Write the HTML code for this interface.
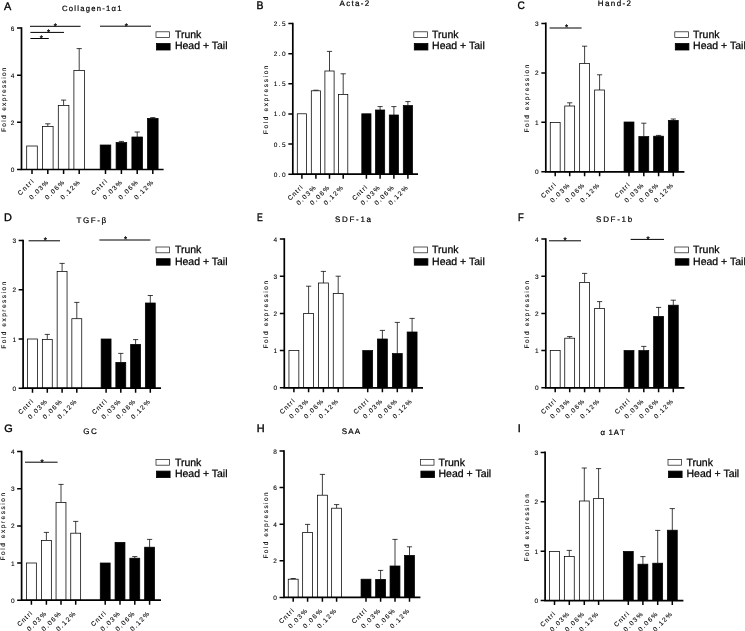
<!DOCTYPE html>
<html lang="en"><head><meta charset="utf-8"><title>Fold expression figure</title>
<style>
html,body{margin:0;padding:0;background:#fff;}
body{width:745px;height:631px;overflow:hidden;}
svg{display:block;will-change:transform;}
text{font-family:"Liberation Sans", Arial, sans-serif;fill:#000;text-rendering:geometricPrecision;}
.s{font-size:6.5px;letter-spacing:1.4px;stroke:#000;stroke-width:0.1px;}
.t{font-size:7.6px;letter-spacing:1.4px;stroke:#000;stroke-width:0.2px;}
.l{font-size:10.9px;stroke:#000;stroke-width:0.35px;}
.st{font-size:8px;stroke:#000;stroke-width:0.3px;}
.g{font-size:10.5px;stroke:#000;stroke-width:0.25px;}
.ax{stroke:#000;stroke-width:1.7;fill:none;stroke-linecap:butt;}
.tk{stroke:#000;stroke-width:1.5;fill:none;}
.wb{fill:#fff;stroke:#000;stroke-width:0.75;}
.bb{fill:#000;stroke:#000;stroke-width:0.75;}
.eb{stroke:#000;stroke-width:0.75;fill:none;}
.sg{stroke:#000;stroke-width:1;fill:none;}
</style></head><body>
<svg width="745" height="631" viewBox="0 0 745 631" role="img" aria-label="Fold expression bar charts, panels A to I">
<rect x="0" y="0" width="745" height="631" fill="#fff"/>
<g>
<text class="l" transform="translate(4 9.6) scale(1 1)">A</text>
<text class="t" style="font-size:7.7px;letter-spacing:1.23px" x="62" y="11.4">Collagen-1α1</text>
<rect class="wb" x="26.7" y="146" width="10.6" height="23.5"/>
<path class="eb" d="M47.8 126.4V123.8M45.2 123.8H50.4"/>
<rect class="wb" x="42.5" y="126.4" width="10.6" height="43.1"/>
<path class="eb" d="M63.6 105.4V100.1M61 100.1H66.2"/>
<rect class="wb" x="58.3" y="105.4" width="10.6" height="64.1"/>
<path class="eb" d="M79.2 70.4V48.6M76.6 48.6H81.8"/>
<rect class="wb" x="73.9" y="70.4" width="10.6" height="99.1"/>
<rect class="bb" x="100.2" y="145" width="10.6" height="24.5"/>
<path class="eb" d="M121.4 142.6V141.4M118.8 141.4H124"/>
<rect class="bb" x="116.1" y="142.6" width="10.6" height="26.9"/>
<path class="eb" d="M137.2 137V132M134.6 132H139.8"/>
<rect class="bb" x="131.9" y="137" width="10.6" height="32.5"/>
<path class="eb" d="M152.8 118.4V117.6M150.2 117.6H155.4"/>
<rect class="bb" x="147.5" y="118.4" width="10.6" height="51.1"/>
<path class="ax" d="M21.5 27.25V169.5H163.6"/>
<text class="s" x="15.8" y="30.6" text-anchor="end">6</text>
<text class="s" x="15.8" y="77.7" text-anchor="end">4</text>
<text class="s" x="15.8" y="124.8" text-anchor="end">2</text>
<text class="s" x="15.8" y="172" text-anchor="end">0</text>
<text class="s" text-anchor="end" style="letter-spacing:1.4px" transform="translate(34 182) rotate(-45)" x="1.4" y="0">Cntrl</text>
<text class="s" text-anchor="end" style="letter-spacing:1.4px" transform="translate(48.7 183.1) rotate(-45)" x="1.4" y="0">0.03%</text>
<text class="s" text-anchor="end" style="letter-spacing:1.4px" transform="translate(64.5 183.1) rotate(-45)" x="1.4" y="0">0.06%</text>
<text class="s" text-anchor="end" style="letter-spacing:1.4px" transform="translate(80.1 183.1) rotate(-45)" x="1.4" y="0">0.12%</text>
<text class="s" text-anchor="end" style="letter-spacing:1.4px" transform="translate(107.5 182) rotate(-45)" x="1.4" y="0">Cntrl</text>
<text class="s" text-anchor="end" style="letter-spacing:1.4px" transform="translate(122.3 183.1) rotate(-45)" x="1.4" y="0">0.03%</text>
<text class="s" text-anchor="end" style="letter-spacing:1.4px" transform="translate(138.1 183.1) rotate(-45)" x="1.4" y="0">0.06%</text>
<text class="s" text-anchor="end" style="letter-spacing:1.4px" transform="translate(153.7 183.1) rotate(-45)" x="1.4" y="0">0.12%</text>
<path class="tk" d="M21.5 28.1H17.05M21.5 75.2H17.05M21.5 122.3H17.05M21.5 169.5H17.05M32 169.5V173.95M47.8 169.5V173.95M63.6 169.5V173.95M79.2 169.5V173.95M105.5 169.5V173.95M121.4 169.5V173.95M137.2 169.5V173.95M152.8 169.5V173.95"/>
<text class="s" style="letter-spacing:1.32px" transform="translate(5.5 131.4) rotate(-90)" x="-0.52" y="0">Fold expression</text>
<path class="sg" d="M30 26.3H80.6"/>
<text class="st" x="55.4" y="28.6" text-anchor="middle">*</text>
<path class="sg" d="M30.4 32.4H64"/>
<text class="st" x="48.5" y="34.7" text-anchor="middle">*</text>
<path class="sg" d="M30.4 38.5H48.8"/>
<text class="st" x="41.3" y="40.8" text-anchor="middle">*</text>
<path class="sg" d="M100 26.2H151"/>
<text class="st" x="126.4" y="28.5" text-anchor="middle">*</text>
<rect x="156" y="31.8" width="13.6" height="5.8" fill="#fff" stroke="#222" stroke-width="0.75"/>
<rect x="156.5" y="43.5" width="13.6" height="6.5" fill="#000" stroke="#000" stroke-width="0.8"/>
<text class="g" x="174.9" y="38">Trunk</text>
<text class="g" x="174.9" y="49.4">Head + Tail</text>
</g>
<g>
<text class="l" transform="translate(256.5 9.4) scale(0.96 1)">B</text>
<text class="t" style="font-size:8px;letter-spacing:1.28px" x="339.6" y="6.4">Acta-2</text>
<rect class="wb" x="297.3" y="113.8" width="9.2" height="60.4"/>
<path class="eb" d="M315.9 90.8V90.2M313.3 90.2H318.5"/>
<rect class="wb" x="311.3" y="90.8" width="9.2" height="83.4"/>
<path class="eb" d="M329.5 71V51.4M326.9 51.4H332.1"/>
<rect class="wb" x="324.9" y="71" width="9.2" height="103.2"/>
<path class="eb" d="M343.2 94.4V73.8M340.6 73.8H345.8"/>
<rect class="wb" x="338.6" y="94.4" width="9.2" height="79.8"/>
<rect class="bb" x="361.8" y="113.8" width="9.2" height="60.4"/>
<path class="eb" d="M380.1 110V106.6M377.5 106.6H382.7"/>
<rect class="bb" x="375.5" y="110" width="9.2" height="64.2"/>
<path class="eb" d="M393.9 115V106.6M391.3 106.6H396.5"/>
<rect class="bb" x="389.3" y="115" width="9.2" height="59.2"/>
<path class="eb" d="M407.9 105.6V101.6M405.3 101.6H410.5"/>
<rect class="bb" x="403.3" y="105.6" width="9.2" height="68.6"/>
<path class="ax" d="M292.8 22.75V174.2H418"/>
<text class="s" x="287.1" y="26.1" text-anchor="end">2.5</text>
<text class="s" x="287.1" y="56.2" text-anchor="end">2.0</text>
<text class="s" x="287.1" y="86.3" text-anchor="end">1.5</text>
<text class="s" x="287.1" y="116.4" text-anchor="end">1.0</text>
<text class="s" x="287.1" y="146.6" text-anchor="end">0.5</text>
<text class="s" x="287.1" y="176.7" text-anchor="end">0.0</text>
<text class="s" text-anchor="end" style="letter-spacing:1.1px" transform="translate(303 188) rotate(-45)" x="1.1" y="0">Cntrl</text>
<text class="s" text-anchor="end" style="letter-spacing:1.4px" transform="translate(316 188.5) rotate(-45)" x="1.4" y="0">0.03%</text>
<text class="s" text-anchor="end" style="letter-spacing:1.4px" transform="translate(329.6 188.5) rotate(-45)" x="1.4" y="0">0.06%</text>
<text class="s" text-anchor="end" style="letter-spacing:1.4px" transform="translate(343.3 188.5) rotate(-45)" x="1.4" y="0">0.12%</text>
<text class="s" text-anchor="end" style="letter-spacing:1.1px" transform="translate(367.5 188) rotate(-45)" x="1.1" y="0">Cntrl</text>
<text class="s" text-anchor="end" style="letter-spacing:1.4px" transform="translate(380.2 188.5) rotate(-45)" x="1.4" y="0">0.03%</text>
<text class="s" text-anchor="end" style="letter-spacing:1.4px" transform="translate(394 188.5) rotate(-45)" x="1.4" y="0">0.06%</text>
<text class="s" text-anchor="end" style="letter-spacing:1.4px" transform="translate(408 188.5) rotate(-45)" x="1.4" y="0">0.12%</text>
<path class="tk" d="M292.8 23.6H288.35M292.8 53.7H288.35M292.8 83.8H288.35M292.8 113.9H288.35M292.8 144.1H288.35M292.8 174.2H288.35M301.9 174.2V178.65M315.9 174.2V178.65M329.5 174.2V178.65M343.2 174.2V178.65M366.4 174.2V178.65M380.1 174.2V178.65M393.9 174.2V178.65M407.9 174.2V178.65"/>
<text class="s" style="letter-spacing:1.63px" transform="translate(268.1 133.7) rotate(-90)" x="-0.52" y="0">Fold expression</text>
<rect x="413.8" y="31.8" width="13.6" height="5.8" fill="#fff" stroke="#222" stroke-width="0.75"/>
<rect x="414.3" y="43.5" width="13.6" height="6.5" fill="#000" stroke="#000" stroke-width="0.8"/>
<text class="g" x="432.1" y="38">Trunk</text>
<text class="g" x="432.1" y="49.4">Head + Tail</text>
</g>
<g>
<text class="l" transform="translate(517.4 9.4) scale(0.93 1)">C</text>
<text class="t" style="font-size:8px;letter-spacing:1.39px" x="597.8" y="6.2">Hand-2</text>
<rect class="wb" x="550.25" y="122.4" width="9.9" height="49.4"/>
<path class="eb" d="M569.7 106V102.8M567.1 102.8H572.3"/>
<rect class="wb" x="564.75" y="106" width="9.9" height="65.8"/>
<path class="eb" d="M584.6 63.6V46.2M582 46.2H587.2"/>
<rect class="wb" x="579.65" y="63.6" width="9.9" height="108.2"/>
<path class="eb" d="M599.6 90V74.8M597 74.8H602.2"/>
<rect class="wb" x="594.65" y="90" width="9.9" height="81.8"/>
<rect class="bb" x="624.05" y="122" width="9.9" height="49.8"/>
<path class="eb" d="M643.8 136.6V123.2M641.2 123.2H646.4"/>
<rect class="bb" x="638.85" y="136.6" width="9.9" height="35.2"/>
<path class="eb" d="M658.6 136.2V135.4M656 135.4H661.2"/>
<rect class="bb" x="653.65" y="136.2" width="9.9" height="35.6"/>
<path class="eb" d="M673.3 120.4V119M670.7 119H675.9"/>
<rect class="bb" x="668.35" y="120.4" width="9.9" height="51.4"/>
<path class="ax" d="M545.8 22.55V171.8H684.4"/>
<text class="s" x="540.1" y="25.9" text-anchor="end">3</text>
<text class="s" x="540.1" y="75.4" text-anchor="end">2</text>
<text class="s" x="540.1" y="124.8" text-anchor="end">1</text>
<text class="s" x="540.1" y="174.3" text-anchor="end">0</text>
<text class="s" text-anchor="end" style="letter-spacing:1.1px" transform="translate(556.3 185.6) rotate(-45)" x="1.1" y="0">Cntrl</text>
<text class="s" text-anchor="end" style="letter-spacing:1.4px" transform="translate(569.8 186.1) rotate(-45)" x="1.4" y="0">0.03%</text>
<text class="s" text-anchor="end" style="letter-spacing:1.4px" transform="translate(584.7 186.1) rotate(-45)" x="1.4" y="0">0.06%</text>
<text class="s" text-anchor="end" style="letter-spacing:1.4px" transform="translate(599.7 186.1) rotate(-45)" x="1.4" y="0">0.12%</text>
<text class="s" text-anchor="end" style="letter-spacing:1.1px" transform="translate(630.1 185.6) rotate(-45)" x="1.1" y="0">Cntrl</text>
<text class="s" text-anchor="end" style="letter-spacing:1.4px" transform="translate(643.9 186.1) rotate(-45)" x="1.4" y="0">0.03%</text>
<text class="s" text-anchor="end" style="letter-spacing:1.4px" transform="translate(658.7 186.1) rotate(-45)" x="1.4" y="0">0.06%</text>
<text class="s" text-anchor="end" style="letter-spacing:1.4px" transform="translate(673.4 186.1) rotate(-45)" x="1.4" y="0">0.12%</text>
<path class="tk" d="M545.8 23.4H541.35M545.8 72.9H541.35M545.8 122.3H541.35M545.8 171.8H541.35M555.2 171.8V176.25M569.7 171.8V176.25M584.6 171.8V176.25M599.6 171.8V176.25M629 171.8V176.25M643.8 171.8V176.25M658.6 171.8V176.25M673.3 171.8V176.25"/>
<text class="s" style="letter-spacing:1.56px" transform="translate(528.7 131.9) rotate(-90)" x="-0.52" y="0">Fold expression</text>
<path class="sg" d="M549.6 28H581.6"/>
<text class="st" x="566.6" y="30.3" text-anchor="middle">*</text>
<rect x="674.8" y="31.8" width="13.6" height="5.8" fill="#fff" stroke="#222" stroke-width="0.75"/>
<rect x="675.3" y="43.5" width="13.6" height="6.5" fill="#000" stroke="#000" stroke-width="0.8"/>
<text class="g" x="693.1" y="38">Trunk</text>
<text class="g" x="693.1" y="49.4">Head + Tail</text>
</g>
<g>
<text class="l" transform="translate(4 220.8) scale(1 1)">D</text>
<text class="t" style="font-size:8px;letter-spacing:1.56px" x="76.5" y="222.5">TGF-β</text>
<rect class="wb" x="27.55" y="339" width="9.9" height="49.2"/>
<path class="eb" d="M47.3 339.4V334.4M44.7 334.4H49.9"/>
<rect class="wb" x="42.35" y="339.4" width="9.9" height="48.8"/>
<path class="eb" d="M62.1 271.4V263.4M59.5 263.4H64.7"/>
<rect class="wb" x="57.15" y="271.4" width="9.9" height="116.8"/>
<path class="eb" d="M76.8 318.7V302.4M74.2 302.4H79.4"/>
<rect class="wb" x="71.85" y="318.7" width="9.9" height="69.5"/>
<rect class="bb" x="101.15" y="339" width="9.9" height="49.2"/>
<path class="eb" d="M120.8 362.4V353.4M118.2 353.4H123.4"/>
<rect class="bb" x="115.85" y="362.4" width="9.9" height="25.8"/>
<path class="eb" d="M135.6 344.4V339.6M133 339.6H138.2"/>
<rect class="bb" x="130.65" y="344.4" width="9.9" height="43.8"/>
<path class="eb" d="M150.3 303V295.5M147.7 295.5H152.9"/>
<rect class="bb" x="145.35" y="303" width="9.9" height="85.2"/>
<path class="ax" d="M23.1 239.75V388.2H161"/>
<text class="s" x="17.4" y="243.1" text-anchor="end">3</text>
<text class="s" x="17.4" y="292.3" text-anchor="end">2</text>
<text class="s" x="17.4" y="341.5" text-anchor="end">1</text>
<text class="s" x="17.4" y="390.7" text-anchor="end">0</text>
<text class="s" text-anchor="end" style="letter-spacing:1.1px" transform="translate(33.6 402) rotate(-45)" x="1.1" y="0">Cntrl</text>
<text class="s" text-anchor="end" style="letter-spacing:1.4px" transform="translate(47.4 402.5) rotate(-45)" x="1.4" y="0">0.03%</text>
<text class="s" text-anchor="end" style="letter-spacing:1.4px" transform="translate(62.2 402.5) rotate(-45)" x="1.4" y="0">0.06%</text>
<text class="s" text-anchor="end" style="letter-spacing:1.4px" transform="translate(76.9 402.5) rotate(-45)" x="1.4" y="0">0.12%</text>
<text class="s" text-anchor="end" style="letter-spacing:1.1px" transform="translate(107.2 402) rotate(-45)" x="1.1" y="0">Cntrl</text>
<text class="s" text-anchor="end" style="letter-spacing:1.4px" transform="translate(120.9 402.5) rotate(-45)" x="1.4" y="0">0.03%</text>
<text class="s" text-anchor="end" style="letter-spacing:1.4px" transform="translate(135.7 402.5) rotate(-45)" x="1.4" y="0">0.06%</text>
<text class="s" text-anchor="end" style="letter-spacing:1.4px" transform="translate(150.4 402.5) rotate(-45)" x="1.4" y="0">0.12%</text>
<path class="tk" d="M23.1 240.6H18.65M23.1 289.8H18.65M23.1 339H18.65M23.1 388.2H18.65M32.5 388.2V392.65M47.3 388.2V392.65M62.1 388.2V392.65M76.8 388.2V392.65M106.1 388.2V392.65M120.8 388.2V392.65M135.6 388.2V392.65M150.3 388.2V392.65"/>
<text class="s" style="letter-spacing:1.51px" transform="translate(6 348.2) rotate(-90)" x="-0.52" y="0">Fold expression</text>
<path class="sg" d="M28.6 240.8H60"/>
<text class="st" x="45.4" y="243.1" text-anchor="middle">*</text>
<path class="sg" d="M99.4 240H150.4"/>
<text class="st" x="125.6" y="242.3" text-anchor="middle">*</text>
<rect x="156" y="247" width="13.6" height="5.8" fill="#fff" stroke="#222" stroke-width="0.75"/>
<rect x="156.5" y="258.7" width="13.6" height="6.5" fill="#000" stroke="#000" stroke-width="0.8"/>
<text class="g" x="174.9" y="253.2">Trunk</text>
<text class="g" x="174.9" y="264.6">Head + Tail</text>
</g>
<g>
<text class="l" transform="translate(257 220.8) scale(0.8 1)">E</text>
<text class="t" style="font-size:8px;letter-spacing:1.66px" x="335.1" y="222">SDF-1a</text>
<rect class="wb" x="288.95" y="350.6" width="9.9" height="37.2"/>
<path class="eb" d="M308.6 313.4V286.2M306 286.2H311.2"/>
<rect class="wb" x="303.65" y="313.4" width="9.9" height="74.4"/>
<path class="eb" d="M323.4 283V271.4M320.8 271.4H326"/>
<rect class="wb" x="318.45" y="283" width="9.9" height="104.8"/>
<path class="eb" d="M338.2 293.4V276.2M335.6 276.2H340.8"/>
<rect class="wb" x="333.25" y="293.4" width="9.9" height="94.4"/>
<rect class="bb" x="362.75" y="350.6" width="9.9" height="37.2"/>
<path class="eb" d="M382.4 339V330.4M379.8 330.4H385"/>
<rect class="bb" x="377.45" y="339" width="9.9" height="48.8"/>
<path class="eb" d="M397.3 353.6V322.4M394.7 322.4H399.9"/>
<rect class="bb" x="392.35" y="353.6" width="9.9" height="34.2"/>
<path class="eb" d="M412.1 332V318.4M409.5 318.4H414.7"/>
<rect class="bb" x="407.15" y="332" width="9.9" height="55.8"/>
<path class="ax" d="M284.3 238.15V387.8H423"/>
<text class="s" x="278.6" y="241.5" text-anchor="end">4</text>
<text class="s" x="278.6" y="278.7" text-anchor="end">3</text>
<text class="s" x="278.6" y="315.9" text-anchor="end">2</text>
<text class="s" x="278.6" y="353.1" text-anchor="end">1</text>
<text class="s" x="278.6" y="390.3" text-anchor="end">0</text>
<text class="s" text-anchor="end" style="letter-spacing:1.1px" transform="translate(295 401.6) rotate(-45)" x="1.1" y="0">Cntrl</text>
<text class="s" text-anchor="end" style="letter-spacing:1.4px" transform="translate(308.7 402.1) rotate(-45)" x="1.4" y="0">0.03%</text>
<text class="s" text-anchor="end" style="letter-spacing:1.4px" transform="translate(323.5 402.1) rotate(-45)" x="1.4" y="0">0.06%</text>
<text class="s" text-anchor="end" style="letter-spacing:1.4px" transform="translate(338.3 402.1) rotate(-45)" x="1.4" y="0">0.12%</text>
<text class="s" text-anchor="end" style="letter-spacing:1.1px" transform="translate(368.8 401.6) rotate(-45)" x="1.1" y="0">Cntrl</text>
<text class="s" text-anchor="end" style="letter-spacing:1.4px" transform="translate(382.5 402.1) rotate(-45)" x="1.4" y="0">0.03%</text>
<text class="s" text-anchor="end" style="letter-spacing:1.4px" transform="translate(397.4 402.1) rotate(-45)" x="1.4" y="0">0.06%</text>
<text class="s" text-anchor="end" style="letter-spacing:1.4px" transform="translate(412.2 402.1) rotate(-45)" x="1.4" y="0">0.12%</text>
<path class="tk" d="M284.3 239H279.85M284.3 276.2H279.85M284.3 313.4H279.85M284.3 350.6H279.85M284.3 387.8H279.85M293.9 387.8V392.25M308.6 387.8V392.25M323.4 387.8V392.25M338.2 387.8V392.25M367.7 387.8V392.25M382.4 387.8V392.25M397.3 387.8V392.25M412.1 387.8V392.25"/>
<text class="s" style="letter-spacing:1.56px" transform="translate(268.1 348.1) rotate(-90)" x="-0.52" y="0">Fold expression</text>
<rect x="413.8" y="247" width="13.6" height="5.8" fill="#fff" stroke="#222" stroke-width="0.75"/>
<rect x="414.3" y="258.7" width="13.6" height="6.5" fill="#000" stroke="#000" stroke-width="0.8"/>
<text class="g" x="432.1" y="253.2">Trunk</text>
<text class="g" x="432.1" y="264.6">Head + Tail</text>
</g>
<g>
<text class="l" transform="translate(517.9 220.8) scale(0.86 1)">F</text>
<text class="t" style="font-size:8px;letter-spacing:1.7px" x="596.1" y="222">SDF-1b</text>
<rect class="wb" x="550.25" y="350.6" width="9.9" height="37.2"/>
<path class="eb" d="M569.7 338.2V336.6M567.1 336.6H572.3"/>
<rect class="wb" x="564.75" y="338.2" width="9.9" height="49.6"/>
<path class="eb" d="M584.6 282.4V273.4M582 273.4H587.2"/>
<rect class="wb" x="579.65" y="282.4" width="9.9" height="105.4"/>
<path class="eb" d="M599.6 308.4V301.6M597 301.6H602.2"/>
<rect class="wb" x="594.65" y="308.4" width="9.9" height="79.4"/>
<rect class="bb" x="624.05" y="350.6" width="9.9" height="37.2"/>
<path class="eb" d="M643.8 350.6V346.4M641.2 346.4H646.4"/>
<rect class="bb" x="638.85" y="350.6" width="9.9" height="37.2"/>
<path class="eb" d="M658.6 316.4V307.4M656 307.4H661.2"/>
<rect class="bb" x="653.65" y="316.4" width="9.9" height="71.4"/>
<path class="eb" d="M673.3 305.2V300.2M670.7 300.2H675.9"/>
<rect class="bb" x="668.35" y="305.2" width="9.9" height="82.6"/>
<path class="ax" d="M545.8 238.15V387.8H684.4"/>
<text class="s" x="540.1" y="241.5" text-anchor="end">4</text>
<text class="s" x="540.1" y="278.7" text-anchor="end">3</text>
<text class="s" x="540.1" y="315.9" text-anchor="end">2</text>
<text class="s" x="540.1" y="353.1" text-anchor="end">1</text>
<text class="s" x="540.1" y="390.3" text-anchor="end">0</text>
<text class="s" text-anchor="end" style="letter-spacing:1.1px" transform="translate(556.3 401.6) rotate(-45)" x="1.1" y="0">Cntrl</text>
<text class="s" text-anchor="end" style="letter-spacing:1.4px" transform="translate(569.8 402.1) rotate(-45)" x="1.4" y="0">0.03%</text>
<text class="s" text-anchor="end" style="letter-spacing:1.4px" transform="translate(584.7 402.1) rotate(-45)" x="1.4" y="0">0.06%</text>
<text class="s" text-anchor="end" style="letter-spacing:1.4px" transform="translate(599.7 402.1) rotate(-45)" x="1.4" y="0">0.12%</text>
<text class="s" text-anchor="end" style="letter-spacing:1.1px" transform="translate(630.1 401.6) rotate(-45)" x="1.1" y="0">Cntrl</text>
<text class="s" text-anchor="end" style="letter-spacing:1.4px" transform="translate(643.9 402.1) rotate(-45)" x="1.4" y="0">0.03%</text>
<text class="s" text-anchor="end" style="letter-spacing:1.4px" transform="translate(658.7 402.1) rotate(-45)" x="1.4" y="0">0.06%</text>
<text class="s" text-anchor="end" style="letter-spacing:1.4px" transform="translate(673.4 402.1) rotate(-45)" x="1.4" y="0">0.12%</text>
<path class="tk" d="M545.8 239H541.35M545.8 276.2H541.35M545.8 313.4H541.35M545.8 350.6H541.35M545.8 387.8H541.35M555.2 387.8V392.25M569.7 387.8V392.25M584.6 387.8V392.25M599.6 387.8V392.25M629 387.8V392.25M643.8 387.8V392.25M658.6 387.8V392.25M673.3 387.8V392.25"/>
<text class="s" style="letter-spacing:1.56px" transform="translate(528.7 348.1) rotate(-90)" x="-0.52" y="0">Fold expression</text>
<path class="sg" d="M549 240.8H581"/>
<text class="st" x="565" y="243.1" text-anchor="middle">*</text>
<path class="sg" d="M630.6 239.4H664"/>
<text class="st" x="648" y="241.7" text-anchor="middle">*</text>
<rect x="674.8" y="247" width="13.6" height="5.8" fill="#fff" stroke="#222" stroke-width="0.75"/>
<rect x="675.3" y="258.7" width="13.6" height="6.5" fill="#000" stroke="#000" stroke-width="0.8"/>
<text class="g" x="693.1" y="253.2">Trunk</text>
<text class="g" x="693.1" y="264.6">Head + Tail</text>
</g>
<g>
<text class="l" transform="translate(4.2 432.2) scale(1 1)">G</text>
<text class="t" style="font-size:8px;letter-spacing:1.7px" x="83.2" y="434.4">GC</text>
<rect class="wb" x="26.45" y="563" width="9.9" height="37.2"/>
<path class="eb" d="M46.4 540.4V532.4M43.8 532.4H49"/>
<rect class="wb" x="41.45" y="540.4" width="9.9" height="59.8"/>
<path class="eb" d="M61 502.4V484.4M58.4 484.4H63.6"/>
<rect class="wb" x="56.05" y="502.4" width="9.9" height="97.8"/>
<path class="eb" d="M75.7 533.2V521.4M73.1 521.4H78.3"/>
<rect class="wb" x="70.75" y="533.2" width="9.9" height="67"/>
<rect class="bb" x="100.25" y="563" width="9.9" height="37.2"/>
<rect class="bb" x="115.05" y="542.4" width="9.9" height="57.8"/>
<path class="eb" d="M134.8 558.2V556.6M132.2 556.6H137.4"/>
<rect class="bb" x="129.85" y="558.2" width="9.9" height="42"/>
<path class="eb" d="M149.6 547.2V539.4M147 539.4H152.2"/>
<rect class="bb" x="144.65" y="547.2" width="9.9" height="53"/>
<path class="ax" d="M21.6 450.75V600.2H161"/>
<text class="s" x="15.9" y="454.1" text-anchor="end">4</text>
<text class="s" x="15.9" y="491.2" text-anchor="end">3</text>
<text class="s" x="15.9" y="528.4" text-anchor="end">2</text>
<text class="s" x="15.9" y="565.5" text-anchor="end">1</text>
<text class="s" x="15.9" y="602.7" text-anchor="end">0</text>
<text class="s" text-anchor="end" style="letter-spacing:1.1px" transform="translate(32.5 614) rotate(-45)" x="1.1" y="0">Cntrl</text>
<text class="s" text-anchor="end" style="letter-spacing:1.4px" transform="translate(46.5 614.5) rotate(-45)" x="1.4" y="0">0.03%</text>
<text class="s" text-anchor="end" style="letter-spacing:1.4px" transform="translate(61.1 614.5) rotate(-45)" x="1.4" y="0">0.06%</text>
<text class="s" text-anchor="end" style="letter-spacing:1.4px" transform="translate(75.8 614.5) rotate(-45)" x="1.4" y="0">0.12%</text>
<text class="s" text-anchor="end" style="letter-spacing:1.1px" transform="translate(106.3 614) rotate(-45)" x="1.1" y="0">Cntrl</text>
<text class="s" text-anchor="end" style="letter-spacing:1.4px" transform="translate(120.1 614.5) rotate(-45)" x="1.4" y="0">0.03%</text>
<text class="s" text-anchor="end" style="letter-spacing:1.4px" transform="translate(134.9 614.5) rotate(-45)" x="1.4" y="0">0.06%</text>
<text class="s" text-anchor="end" style="letter-spacing:1.4px" transform="translate(149.7 614.5) rotate(-45)" x="1.4" y="0">0.12%</text>
<path class="tk" d="M21.6 451.6H17.15M21.6 488.7H17.15M21.6 525.9H17.15M21.6 563H17.15M21.6 600.2H17.15M31.4 600.2V604.65M46.4 600.2V604.65M61 600.2V604.65M75.7 600.2V604.65M105.2 600.2V604.65M120 600.2V604.65M134.8 600.2V604.65M149.6 600.2V604.65"/>
<text class="s" style="letter-spacing:1.54px" transform="translate(5.4 559.9) rotate(-90)" x="-0.52" y="0">Fold expression</text>
<path class="sg" d="M25 462.2H57.6"/>
<text class="st" x="42" y="464.5" text-anchor="middle">*</text>
<rect x="156" y="459.4" width="13.6" height="5.8" fill="#fff" stroke="#222" stroke-width="0.75"/>
<rect x="156.5" y="471.1" width="13.6" height="6.5" fill="#000" stroke="#000" stroke-width="0.8"/>
<text class="g" x="174.9" y="465.6">Trunk</text>
<text class="g" x="174.9" y="477">Head + Tail</text>
</g>
<g>
<text class="l" transform="translate(256.8 432) scale(1 1)">H</text>
<text class="t" style="font-size:8px;letter-spacing:1.13px" x="341.85" y="434">SAA</text>
<path class="eb" d="M293.2 579.2V578.5M290.6 578.5H295.8"/>
<rect class="wb" x="288.25" y="579.2" width="9.9" height="18.2"/>
<path class="eb" d="M307.6 532.4V524.4M305 524.4H310.2"/>
<rect class="wb" x="302.65" y="532.4" width="9.9" height="65"/>
<path class="eb" d="M322.4 495.2V474.4M319.8 474.4H325"/>
<rect class="wb" x="317.45" y="495.2" width="9.9" height="102.2"/>
<path class="eb" d="M336.6 508.2V504.6M334 504.6H339.2"/>
<rect class="wb" x="331.65" y="508.2" width="9.9" height="89.2"/>
<rect class="bb" x="361.05" y="579.2" width="9.9" height="18.2"/>
<path class="eb" d="M380.6 579.4V570.4M378 570.4H383.2"/>
<rect class="bb" x="375.65" y="579.4" width="9.9" height="18"/>
<path class="eb" d="M395 566V539.4M392.4 539.4H397.6"/>
<rect class="bb" x="390.05" y="566" width="9.9" height="31.4"/>
<path class="eb" d="M409.5 555.4V546.8M406.9 546.8H412.1"/>
<rect class="bb" x="404.55" y="555.4" width="9.9" height="42"/>
<path class="ax" d="M284 450.15V597.4H420.4"/>
<text class="s" x="278.3" y="453.5" text-anchor="end">8</text>
<text class="s" x="278.3" y="490.1" text-anchor="end">6</text>
<text class="s" x="278.3" y="526.7" text-anchor="end">4</text>
<text class="s" x="278.3" y="563.3" text-anchor="end">2</text>
<text class="s" x="278.3" y="599.9" text-anchor="end">0</text>
<text class="s" text-anchor="end" style="letter-spacing:1.1px" transform="translate(294.3 611.2) rotate(-45)" x="1.1" y="0">Cntrl</text>
<text class="s" text-anchor="end" style="letter-spacing:1.4px" transform="translate(307.7 611.7) rotate(-45)" x="1.4" y="0">0.03%</text>
<text class="s" text-anchor="end" style="letter-spacing:1.4px" transform="translate(322.5 611.7) rotate(-45)" x="1.4" y="0">0.06%</text>
<text class="s" text-anchor="end" style="letter-spacing:1.4px" transform="translate(336.7 611.7) rotate(-45)" x="1.4" y="0">0.12%</text>
<text class="s" text-anchor="end" style="letter-spacing:1.1px" transform="translate(367.1 611.2) rotate(-45)" x="1.1" y="0">Cntrl</text>
<text class="s" text-anchor="end" style="letter-spacing:1.4px" transform="translate(380.7 611.7) rotate(-45)" x="1.4" y="0">0.03%</text>
<text class="s" text-anchor="end" style="letter-spacing:1.4px" transform="translate(395.1 611.7) rotate(-45)" x="1.4" y="0">0.06%</text>
<text class="s" text-anchor="end" style="letter-spacing:1.4px" transform="translate(409.6 611.7) rotate(-45)" x="1.4" y="0">0.12%</text>
<path class="tk" d="M284 451H279.55M284 487.6H279.55M284 524.2H279.55M284 560.8H279.55M284 597.4H279.55M293.2 597.4V601.85M307.6 597.4V601.85M322.4 597.4V601.85M336.6 597.4V601.85M366 597.4V601.85M380.6 597.4V601.85M395 597.4V601.85M409.5 597.4V601.85"/>
<text class="s" style="letter-spacing:1.46px" transform="translate(267.9 558.1) rotate(-90)" x="-0.52" y="0">Fold expression</text>
<rect x="420.4" y="459.4" width="13.6" height="5.8" fill="#fff" stroke="#222" stroke-width="0.75"/>
<rect x="420.9" y="471.1" width="13.6" height="6.5" fill="#000" stroke="#000" stroke-width="0.8"/>
<text class="g" x="438.5" y="465.6">Trunk</text>
<text class="g" x="438.5" y="477">Head + Tail</text>
</g>
<g>
<text class="l" transform="translate(517.8 432) scale(1 1)">I</text>
<text class="t" style="font-size:7.8px;letter-spacing:0" x="600.5 608.4 613.7 620.0" y="435">α1AT</text>
<rect class="wb" x="549.55" y="551.4" width="9.9" height="49.2"/>
<path class="eb" d="M569.3 556.6V550.4M566.7 550.4H571.9"/>
<rect class="wb" x="564.35" y="556.6" width="9.9" height="44"/>
<path class="eb" d="M584.3 501V468M581.7 468H586.9"/>
<rect class="wb" x="579.35" y="501" width="9.9" height="99.6"/>
<path class="eb" d="M598.6 498.6V468.6M596 468.6H601.2"/>
<rect class="wb" x="593.65" y="498.6" width="9.9" height="102"/>
<rect class="bb" x="623.35" y="551.4" width="9.9" height="49.2"/>
<path class="eb" d="M642.9 564.2V556.6M640.3 556.6H645.5"/>
<rect class="bb" x="637.95" y="564.2" width="9.9" height="36.4"/>
<path class="eb" d="M657.7 563.2V530.4M655.1 530.4H660.3"/>
<rect class="bb" x="652.75" y="563.2" width="9.9" height="37.4"/>
<path class="eb" d="M672.3 530.2V508.6M669.7 508.6H674.9"/>
<rect class="bb" x="667.35" y="530.2" width="9.9" height="70.4"/>
<path class="ax" d="M545.1 451.55V600.6H683.4"/>
<text class="s" x="539.4" y="454.9" text-anchor="end">3</text>
<text class="s" x="539.4" y="504.3" text-anchor="end">2</text>
<text class="s" x="539.4" y="553.7" text-anchor="end">1</text>
<text class="s" x="539.4" y="603.1" text-anchor="end">0</text>
<text class="s" text-anchor="end" style="letter-spacing:1.1px" transform="translate(555.6 614.4) rotate(-45)" x="1.1" y="0">Cntrl</text>
<text class="s" text-anchor="end" style="letter-spacing:1.4px" transform="translate(569.4 614.9) rotate(-45)" x="1.4" y="0">0.03%</text>
<text class="s" text-anchor="end" style="letter-spacing:1.4px" transform="translate(584.4 614.9) rotate(-45)" x="1.4" y="0">0.06%</text>
<text class="s" text-anchor="end" style="letter-spacing:1.4px" transform="translate(598.7 614.9) rotate(-45)" x="1.4" y="0">0.12%</text>
<text class="s" text-anchor="end" style="letter-spacing:1.1px" transform="translate(629.4 614.4) rotate(-45)" x="1.1" y="0">Cntrl</text>
<text class="s" text-anchor="end" style="letter-spacing:1.4px" transform="translate(643 614.9) rotate(-45)" x="1.4" y="0">0.03%</text>
<text class="s" text-anchor="end" style="letter-spacing:1.4px" transform="translate(657.8 614.9) rotate(-45)" x="1.4" y="0">0.06%</text>
<text class="s" text-anchor="end" style="letter-spacing:1.4px" transform="translate(672.4 614.9) rotate(-45)" x="1.4" y="0">0.12%</text>
<path class="tk" d="M545.1 452.4H540.65M545.1 501.8H540.65M545.1 551.2H540.65M545.1 600.6H540.65M554.5 600.6V605.05M569.3 600.6V605.05M584.3 600.6V605.05M598.6 600.6V605.05M628.3 600.6V605.05M642.9 600.6V605.05M657.7 600.6V605.05M672.3 600.6V605.05"/>
<text class="s" style="letter-spacing:1.54px" transform="translate(528.7 561.1) rotate(-90)" x="-0.52" y="0">Fold expression</text>
<rect x="668" y="459.4" width="13.6" height="5.8" fill="#fff" stroke="#222" stroke-width="0.75"/>
<rect x="668.5" y="471.1" width="13.6" height="6.5" fill="#000" stroke="#000" stroke-width="0.8"/>
<text class="g" x="686.5" y="465.6">Trunk</text>
<text class="g" x="686.5" y="477">Head + Tail</text>
</g>
</svg>
</body></html>
